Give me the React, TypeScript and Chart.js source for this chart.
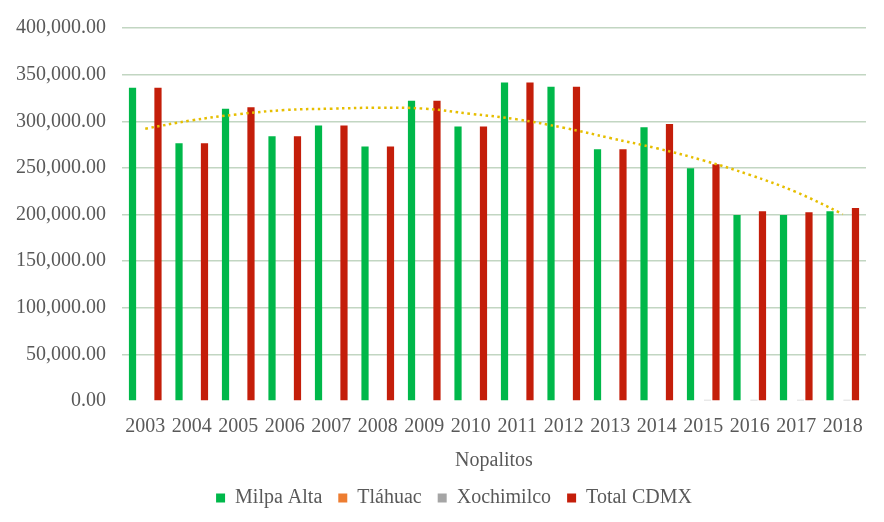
import React, { useEffect, useRef } from "react";
import { Chart, registerables } from "chart.js";

Chart.register(...registerables);

const years = ["2003","2004","2005","2006","2007","2008","2009","2010","2011","2012","2013","2014","2015","2016","2017","2018"];
const milpaAlta = [336000, 276500, 313500, 284000, 295500, 273000, 322000, 294500, 341500, 337000, 270000, 293500, 249500, 199500, 199500, 203500];
const tlahuac = [0, 0, 0, 0, 0, 0, 0, 0, 0, 0, 0, 0, 0, 0, 0, 0];
const xochimilco = [0, 0, 0, 0, 0, 0, 0, 0, 0, 0, 0, 0, 1200, 1200, 1200, 1200];
const totalCDMX = [336000, 276500, 315000, 284000, 295500, 273000, 322000, 294500, 341500, 337000, 270000, 297000, 254000, 203500, 202500, 207000];
const trend = [292000, 301000, 307500, 312000, 313500, 314500, 313500, 308000, 302000, 293000, 282000, 271000, 258000, 242500, 224000, 200500];
const yTicks = [0, 50000, 100000, 150000, 200000, 250000, 300000, 350000, 400000];

const FONT = "'Liberation Serif', 'Times New Roman', serif";
const TEXT = "#595959";
const FS = 20;

const legendPlacer = {
  id: "legendPlacer",
  beforeInit(chart: any) {
    const lg = chart.legend;
    if (lg && !lg.__patched) {
      const orig = lg.fit;
      lg.fit = function () {
        orig.call(this);
        this.height = 40;
      };
      lg.__patched = true;
    }
  },
  afterLayout(chart: any) {
    const lg = chart.legend;
    if (lg) {
      lg.top = 472;
      lg.bottom = 512;
      lg.left += 21;
      lg.right += 21;
    }
  },
};

export default function App() {
  const ref = useRef<HTMLCanvasElement | null>(null);
  useEffect(() => {
    if (!ref.current) return;
    const chart = new Chart(ref.current, {
      type: "bar",
      data: {
        labels: years,
        datasets: [
          { type: "line", label: "trend", data: trend, borderColor: "#E6BE00", borderWidth: 2.5, borderDash: [2.5, 3.5], pointRadius: 0, tension: 0.4, fill: false, order: 0 } as any,
          { label: "Milpa Alta", data: milpaAlta, backgroundColor: "#00B84A", order: 1 },
          { label: "Tláhuac", data: tlahuac, backgroundColor: "#ED7D31", order: 1 },
          { label: "Xochimilco", data: xochimilco, backgroundColor: "#A5A5A5", order: 1 },
          { label: "Total CDMX", data: totalCDMX, backgroundColor: "#C41E0A", order: 1 },
        ],
      },
      options: {
        animation: false,
        responsive: false,
        maintainAspectRatio: false,
        layout: { padding: { top: 27, right: 18, bottom: 0, left: 0 } },
        datasets: { bar: { categoryPercentage: 0.73, barPercentage: 0.85 } } as any,
        plugins: {
          tooltip: { enabled: false },
          legend: {
            position: "bottom",
            labels: {
              font: { family: FONT, size: FS },
              color: TEXT,
              boxWidth: 9,
              boxHeight: 9,
              padding: 16,
              filter: (item: any) => item.text !== "trend",
            },
          },
        },
        scales: {
          x: {
            grid: { display: false, drawTicks: false },
            border: { display: false },
            afterFit: (scale: any) => { scale.height = 81; },
            ticks: { font: { family: FONT, size: FS }, color: TEXT, padding: 14, maxRotation: 0 },
            title: { display: true, text: "Nopalitos", font: { family: FONT, size: FS }, color: TEXT, padding: { top: 12, bottom: 9 } },
          },
          y: {
            min: 0,
            max: 400000,
            afterBuildTicks: (scale: any) => { scale.ticks = yTicks.map((v) => ({ value: v })); },
            afterFit: (scale: any) => { scale.width = 122; },
            grid: {
              color: (ctx: any) => (ctx.tick && ctx.tick.value === 0 ? "rgba(0,0,0,0)" : "#C2D6C2"),
              lineWidth: 1.5,
              drawTicks: false,
            },
            border: { display: false },
            ticks: {
              font: { family: FONT, size: FS },
              color: TEXT,
              padding: 16,
              callback: (v: any) => Number(v).toLocaleString("en-US", { minimumFractionDigits: 2, maximumFractionDigits: 2 }),
            },
          },
        },
      },
      plugins: [legendPlacer],
    });
    return () => chart.destroy();
  }, []);
  return (
    <div style={{ position: "absolute", left: 0, top: 0, width: 884, height: 522, background: "#fff" }}>
      <canvas ref={ref} width={884} height={522} style={{ width: 884, height: 522 }} />
    </div>
  );
}
